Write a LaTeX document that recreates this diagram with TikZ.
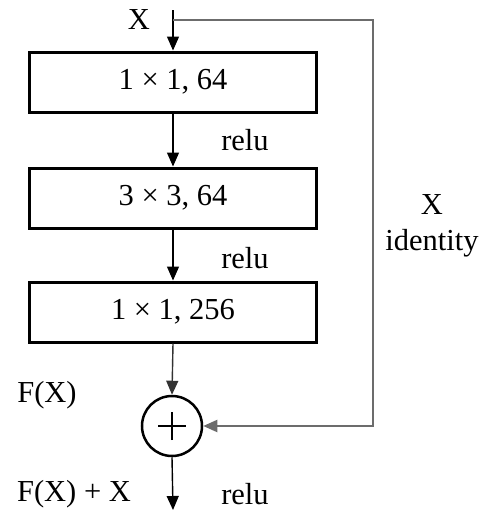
\documentclass[tikz,border=0pt]{standalone}
\usepackage{fontspec}
\setmainfont{Liberation Serif}
\usetikzlibrary{arrows.meta}
\begin{document}
\begin{tikzpicture}[x=1pt,y=-1pt,
  every node/.style={font=\fontsize{30.5}{36}\selectfont},
  layer/.style={draw, line width=3pt, minimum width=287pt, minimum height=60pt, inner sep=0pt},
  flow/.style={line width=1.4pt, -{Triangle[length=14pt,width=12pt]}},
  skip/.style={line width=2pt, draw=gray!85!black, -{Triangle[length=14pt,width=12pt]}},
  lbl/.style={inner sep=0pt}]
\useasboundingbox (0,0) rectangle (481,512);
\node[layer] (b1) at (173,82) {1 × 1, 64};
\node[layer] (b2) at (173,198) {3 × 3, 64};
\node[layer] (b3) at (173,312) {1 × 1, 256};
\node[draw, circle, line width=2.5pt, minimum size=60pt, inner sep=0pt] (sum) at (172,426) {};
\draw[line width=1.2pt] ([xshift=-14pt]sum.center) -- ([xshift=14pt]sum.center)
  ([yshift=-14pt]sum.center) -- ([yshift=14pt]sum.center);
\coordinate (top) at (173,10);
\coordinate (split) at (173,20);
\coordinate (ra) at (373,20);
\coordinate (out) at (173,510);
\node[lbl] (xin) at (139,20) {X};
\node[lbl] (r1) at (245,140) {relu};
\node[lbl] (r2) at (245,258) {relu};
\node[lbl] (r3) at (245,494) {relu};
\node[lbl] (fx) at (47,395) {F(X)};
\node[lbl] (fxx) at (74,494) {F(X) + X};
\node[lbl] (xid) at (432,205) {X};
\node[lbl] (idt) at (432,243) {identity};
\draw[flow] (top) -- (b1.north);
\draw[flow] (b1.south) -- (b2.north);
\draw[flow] (b2.south) -- (b3.north);
\draw[flow, draw=black!80] (b3.south) -- (sum.north);
\draw[flow] (sum.south) -- (out);
\draw[skip] (split) -- (ra) -- (ra |- sum) -- (sum.east);
\end{tikzpicture}
\end{document}
